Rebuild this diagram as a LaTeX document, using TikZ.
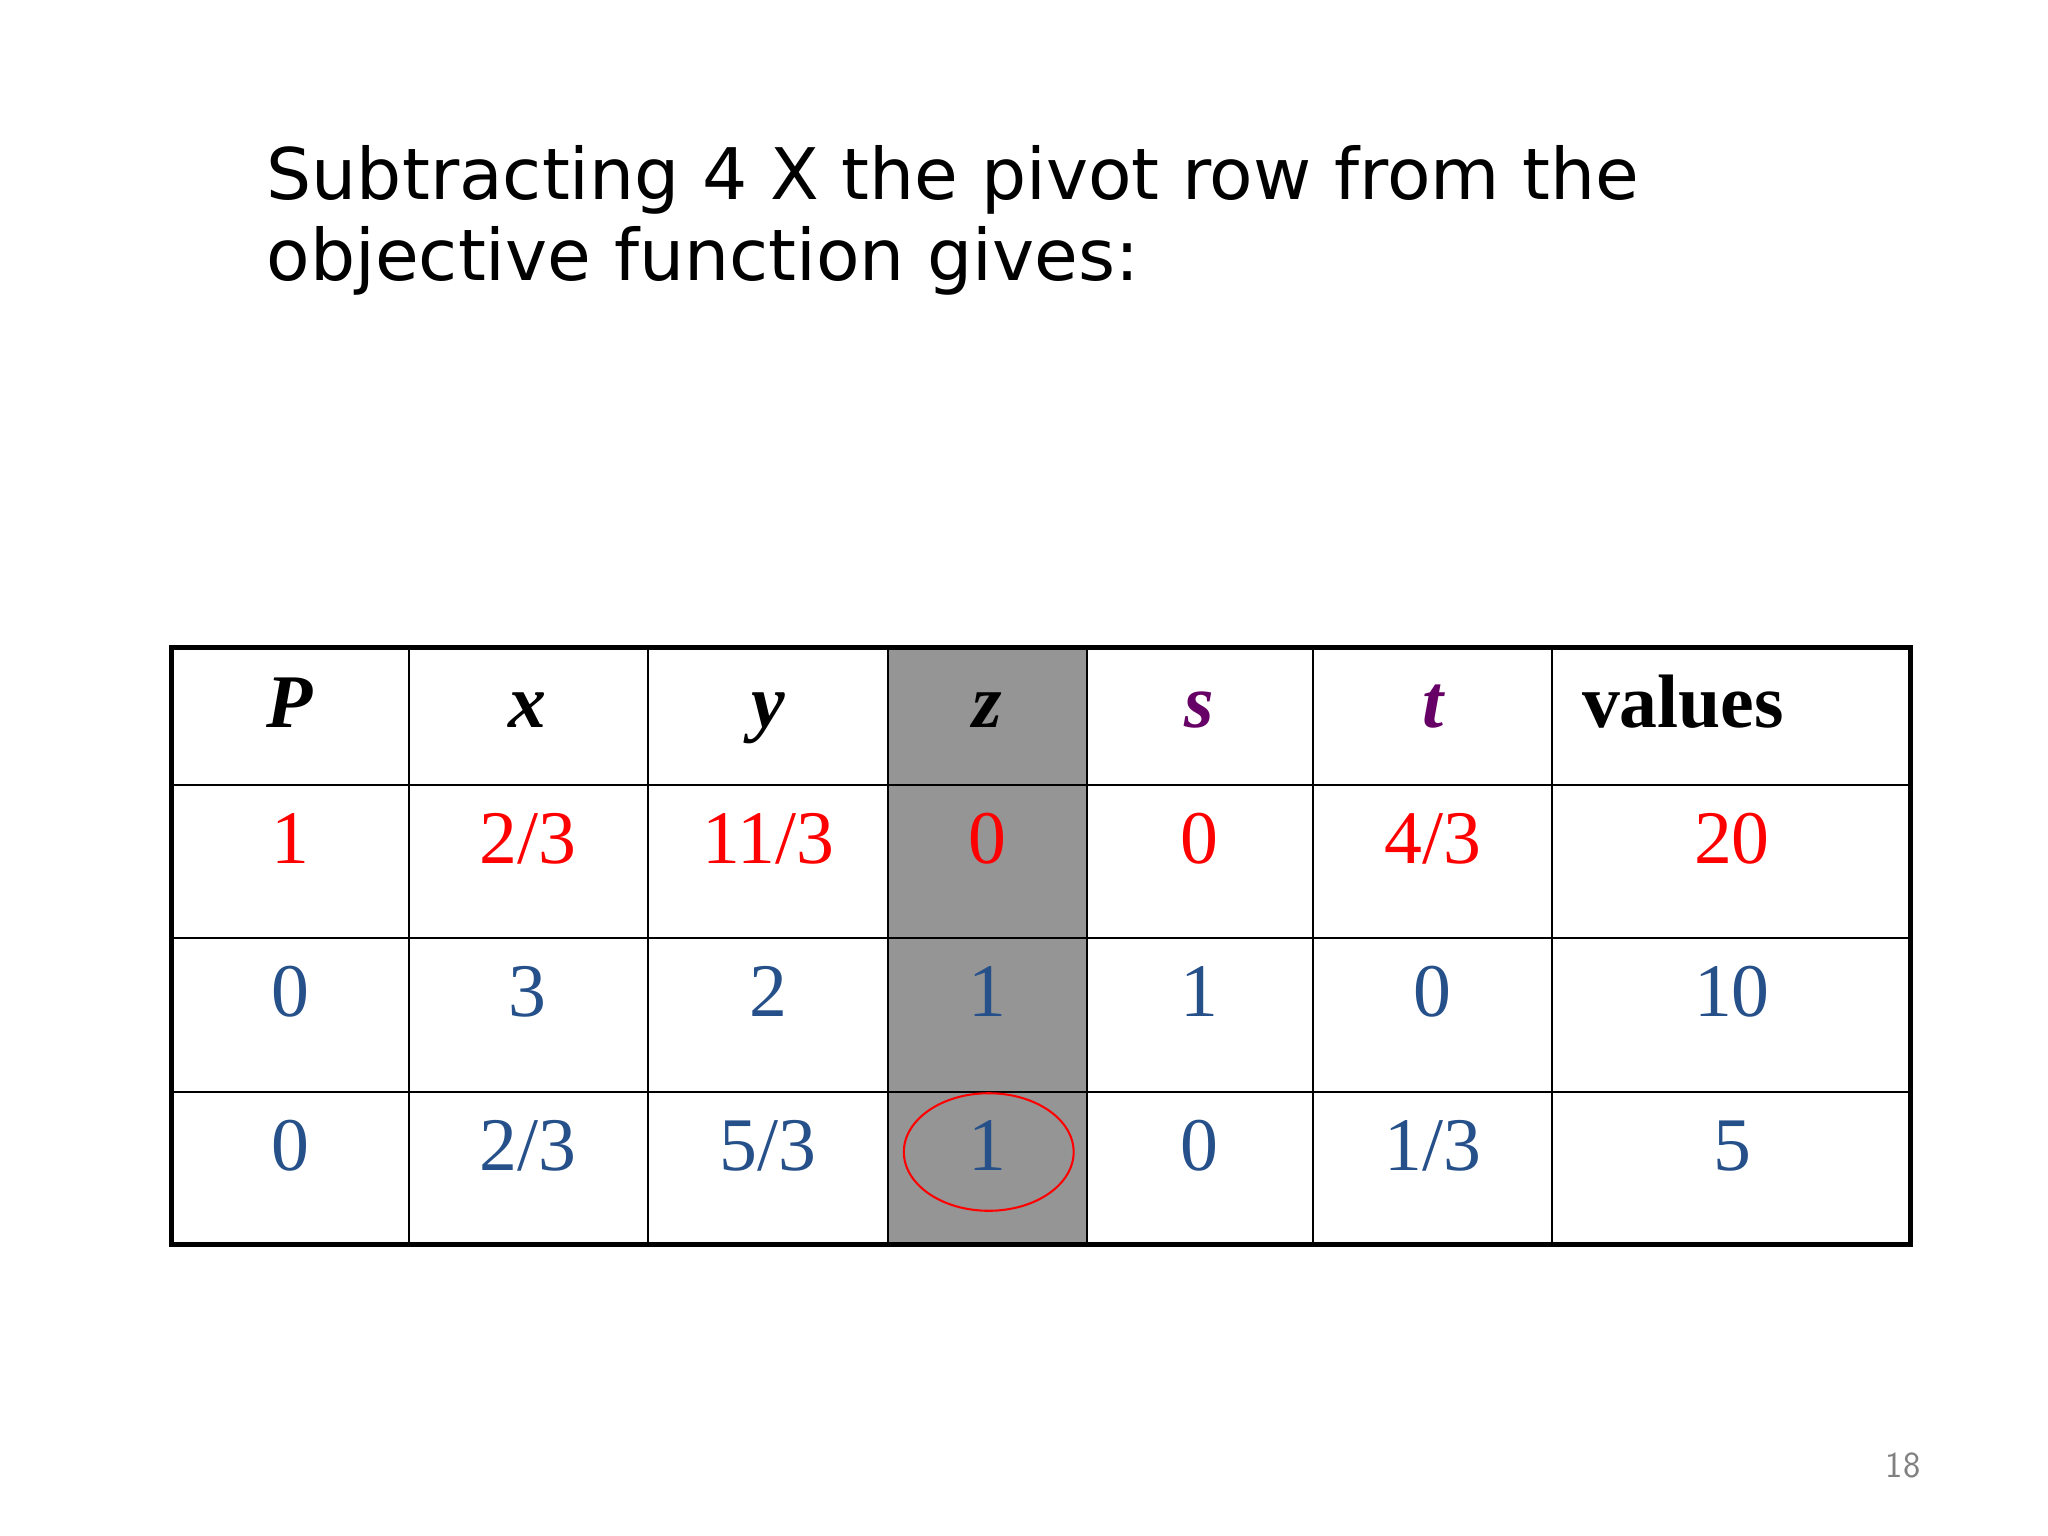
\documentclass[tikz,border=0pt]{standalone}
\usepackage{fontspec}
\setmainfont{Liberation Serif}
\newfontfamily\titlefont{DejaVu Sans}
\definecolor{cellred}{HTML}{FF0000}
\definecolor{cellblue}{HTML}{25508A}
\definecolor{headpurple}{HTML}{660066}
\definecolor{pivotgray}{HTML}{959595}
\begin{document}
\begin{tikzpicture}[x=0.02cm, y=-0.02cm,
    cell/.style = {font=\fontsize{33}{36}\selectfont, anchor=base},
    head/.style = {cell, font=\fontsize{33}{36}\selectfont\bfseries\itshape}]
    \useasboundingbox (0,0) rectangle (1568,1176);
    \fill[white] (0,0) rectangle (1568,1176);

    % title
    \node[anchor=base west, font=\titlefont\fontsize{31}{38}\selectfont, align=left] (title) at (198,153) {Subtracting 4 X the pivot row from the};
    \node[anchor=base west, font=\titlefont\fontsize{31}{38}\selectfont] (title2) at (198,215) {objective function gives:};

    % pivot column
    \fill[pivotgray] (680,496) rectangle (832,953);

    % grid
    \foreach \x in {313,496,680,832,1005,1188}
        \draw[line width=0.8pt] (\x,496) -- (\x,953);
    \foreach \y in {601,718,836}
        \draw[line width=0.8pt] (131,\y) -- (1463,\y);
    \draw[line width=2.2pt] (131,496) rectangle (1463,953);

    % header
    \node[head] (hP) at (222,557) {P};
    \node[head] (hx) at (404,557) {x};
    \node[head] (hy) at (588,557) {y};
    \node[head] (hz) at (756,557) {z};
    \node[head, text=headpurple] (hs) at (918,557) {s};
    \node[head, text=headpurple] (ht) at (1097,557) {t};
    \node[cell, anchor=base west, font=\fontsize{33}{36}\selectfont\bfseries] (hv) at (1205,557) {values};

    % rows
    \foreach \a/\b/\c/\d/\e/\f/\g/\y/\col [count=\r] in
        {1/2\slash 3/11\slash 3/0/0/4\slash 3/20/661/cellred,
         0/3/2/1/1/0/10/778/cellblue,
         0/2\slash 3/5\slash 3/1/0/1\slash 3/5/896/cellblue} {
        \node[cell, text=\col] (p\r) at (222,\y) {\a};
        \node[cell, text=\col] (x\r) at (404,\y) {\b};
        \node[cell, text=\col] (y\r) at (588,\y) {\c};
        \node[cell, text=\col] (z\r) at (756,\y) {\d};
        \node[cell, text=\col] (s\r) at (918,\y) {\e};
        \node[cell, text=\col] (t\r) at (1097,\y) {\f};
        \node[cell, text=\col] (v\r) at (1326,\y) {\g};
    }

    % pivot mark
    \draw[cellred, line width=0.9pt] (757,882) ellipse [x radius=65, y radius=45];

    % page number
    \node[font=\sffamily\fontsize{16}{18}\selectfont, text=gray] (page) at (1457,1122) {18};
\end{tikzpicture}
\end{document}
